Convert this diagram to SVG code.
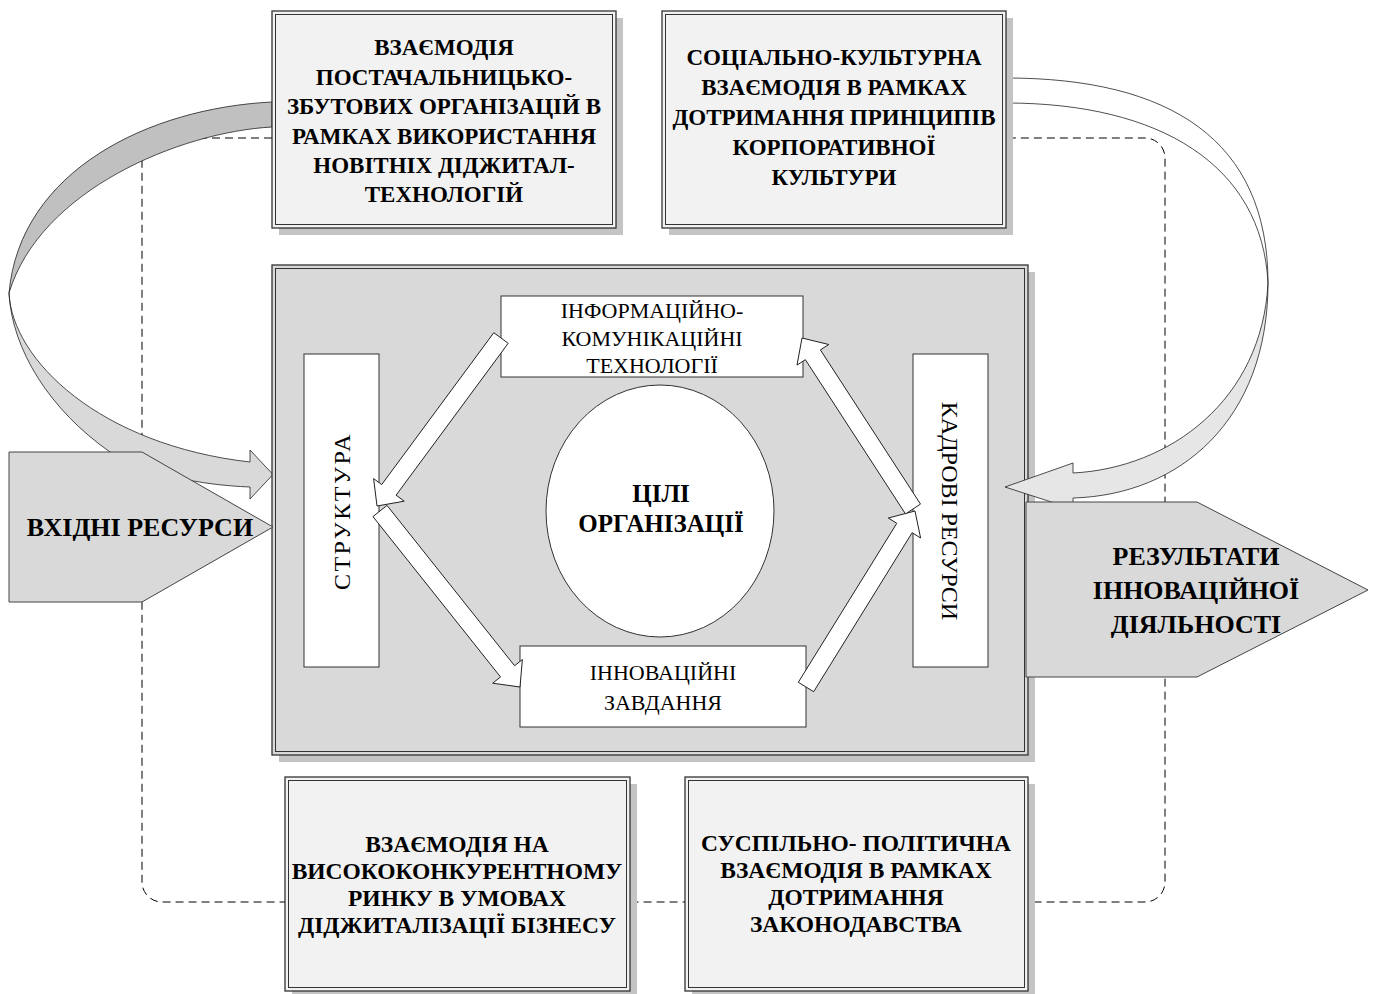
<svg xmlns="http://www.w3.org/2000/svg" width="1376" height="994" viewBox="0 0 1376 994">
<style>
.bt{font-family:"Liberation Serif","Times New Roman",serif;font-weight:bold;font-size:23px;text-anchor:middle;fill:#000}
.rt{font-family:"Liberation Serif","Times New Roman",serif;font-size:22px;text-anchor:middle;fill:#000}
.big{font-family:"Liberation Serif","Times New Roman",serif;font-weight:bold;font-size:26px;text-anchor:middle;fill:#000}
.shadow{fill:#c4c4c4;stroke:none}
.outer{fill:#f2f2f2;stroke:#333;stroke-width:1.3}
.inner{fill:none;stroke:#333;stroke-width:1}
.wbox{fill:#fff;stroke:#333;stroke-width:1}
.barrow{fill:#fff;stroke:#222;stroke-width:1;stroke-linejoin:miter}
.dash{fill:none;stroke:#000;stroke-width:1;stroke-dasharray:8 5}
</style>
<rect width="1376" height="994" fill="#fff"/>

<!-- right ribbon (behind dashed line) -->
<g id="ribbon-right">
<path d="M1006,78 C1170,78 1268,140 1268,283 C1262,165 1160,103 1006,103 Z" fill="#fff" stroke="#222" stroke-width="0.8"/>
</g>

<!-- dashed boundary -->
<g id="boundary">
<path class="dash" d="M272,138 H162 A20,20 0 0 0 142,158 V882 A20,20 0 0 0 162,902 H1145 A20,20 0 0 0 1165,882 V158 A20,20 0 0 0 1145,138 H1006"/>
</g>

<!-- left ribbon -->
<g id="ribbon-left">
<path d="M272,102 C150,108 20,170 9,293 C40,190 180,132 272,127 Z" fill="#c0c0c0" stroke="#222" stroke-width="0.8"/>
<path d="M9,293 C12,360 100,445 250,462 L250,450 L273,474.5 L250,499 L250,487 C200,485 150,475 110,452 C50,410 12,350 9,293 Z" fill="#d9d9d9" stroke="#222" stroke-width="0.8"/>
</g>

<!-- main organisation box -->
<g id="organisation">
<rect class="shadow" x="279" y="272" width="756" height="490"/>
<rect x="272" y="265" width="756" height="490" fill="#d9d9d9" stroke="#333" stroke-width="1.3"/>
<rect class="inner" x="275.5" y="268.5" width="749" height="483"/>
</g>

<g id="structure">
<rect class="wbox" x="304" y="354" width="75" height="313"/>
<text class="rt" style="font-size:24px;letter-spacing:2.5px" transform="translate(350,511) rotate(-90)">СТРУКТУРА</text>
</g>

<g id="personnel">
<rect class="wbox" x="913" y="354" width="75" height="313"/>
<text class="rt" style="font-size:24px" transform="translate(942,511) rotate(90)">КАДРОВІ РЕСУРСИ</text>
</g>

<g id="ict">
<rect class="wbox" x="501" y="296" width="302" height="81"/>
<text class="rt" x="652" y="318">ІНФОРМАЦІЙНО-</text>
<text class="rt" x="652" y="346">КОМУНІКАЦІЙНІ</text>
<text class="rt" x="652" y="373">ТЕХНОЛОГІЇ</text>
</g>

<g id="tasks">
<rect class="wbox" x="520" y="646" width="286" height="81"/>
<text class="rt" x="663" y="680">ІННОВАЦІЙНІ</text>
<text class="rt" x="663" y="710">ЗАВДАННЯ</text>
</g>

<g id="goals">
<ellipse cx="660" cy="511" rx="114" ry="126" fill="#fff" stroke="#333" stroke-width="1"/>
<text class="big" style="font-size:25px" x="661" y="502">ЦІЛІ</text>
<text class="big" style="font-size:25px" x="661" y="532">ОРГАНІЗАЦІЇ</text>
</g>

<!-- inner connectors -->
<g id="connectors">
<polygon class="barrow" points="508.2,343.3 396.1,495.2 404.2,501.2 377,506 373.6,478.6 381.7,484.6 493.8,332.7"/>
<polygon class="barrow" points="372.96,516.6 500.5,676.95 492.7,683.2 520,687 522.4,659.5 514.6,665.75 387,505.4"/>
<polygon class="barrow" points="813.65,691.7 912.15,532.7 920.6,538 915,511 888.3,518 896.8,523.3 798.3,682.3"/>
<polygon class="barrow" points="920.5,504.1 820.4,349.9 828.8,344.5 802,338 797,365.1 805.4,359.7 905.5,513.9"/>
</g>

<!-- right ribbon lower part (over main box) -->
<g id="ribbon-right-head">
<path d="M1268,283 C1268,420 1180,495 1073,498 L1073,509 L1005,487 L1073,463 L1073,473 C1170,468 1262,400 1268,283 Z" fill="#e6e6e6" stroke="#222" stroke-width="0.8"/>
</g>

<!-- outer interaction boxes -->
<g id="supply">
<rect class="shadow" x="279" y="18" width="344" height="217"/>
<rect class="outer" x="272" y="11" width="344" height="217"/>
<rect class="inner" x="275.5" y="14.5" width="337" height="210"/>
<text class="bt" x="444" y="55">ВЗАЄМОДІЯ</text>
<text class="bt" x="444" y="85">ПОСТАЧАЛЬНИЦЬКО-</text>
<text class="bt" x="444" y="114">ЗБУТОВИХ ОРГАНІЗАЦІЙ В</text>
<text class="bt" x="444" y="144">РАМКАХ ВИКОРИСТАННЯ</text>
<text class="bt" x="444" y="173">НОВІТНІХ ДІДЖИТАЛ-</text>
<text class="bt" x="444" y="202">ТЕХНОЛОГІЙ</text>
</g>

<g id="culture">
<rect class="shadow" x="669" y="18" width="344" height="217"/>
<rect class="outer" x="662" y="11" width="344" height="217"/>
<rect class="inner" x="665.5" y="14.5" width="337" height="210"/>
<text class="bt" x="834" y="65">СОЦІАЛЬНО-КУЛЬТУРНА</text>
<text class="bt" x="834" y="95">ВЗАЄМОДІЯ В РАМКАХ</text>
<text class="bt" x="834" y="125">ДОТРИМАННЯ ПРИНЦИПІВ</text>
<text class="bt" x="834" y="155">КОРПОРАТИВНОЇ</text>
<text class="bt" x="834" y="185">КУЛЬТУРИ</text>
</g>

<g id="market">
<rect class="shadow" x="292" y="784" width="345" height="214"/>
<rect class="outer" x="285" y="777" width="345" height="214"/>
<rect class="inner" x="288.5" y="780.5" width="338" height="207"/>
<text class="bt" style="font-size:23.5px" x="457" y="852">ВЗАЄМОДІЯ НА</text>
<text class="bt" style="font-size:23.5px" x="457" y="879">ВИСОКОКОНКУРЕНТНОМУ</text>
<text class="bt" style="font-size:23.5px" x="457" y="906">РИНКУ В УМОВАХ</text>
<text class="bt" style="font-size:23.5px" x="457" y="933">ДІДЖИТАЛІЗАЦІЇ БІЗНЕСУ</text>
</g>

<g id="politics">
<rect class="shadow" x="692" y="784" width="343" height="214"/>
<rect class="outer" x="685" y="777" width="343" height="214"/>
<rect class="inner" x="688.5" y="780.5" width="336" height="207"/>
<text class="bt" style="font-size:23.5px" x="856" y="851">СУСПІЛЬНО- ПОЛІТИЧНА</text>
<text class="bt" style="font-size:23.5px" x="856" y="878">ВЗАЄМОДІЯ В РАМКАХ</text>
<text class="bt" style="font-size:23.5px" x="856" y="905">ДОТРИМАННЯ</text>
<text class="bt" style="font-size:23.5px" x="856" y="932">ЗАКОНОДАВСТВА</text>
</g>

<!-- input / output -->
<g id="input">
<polygon points="9,452 142,452 273,527 142,602 9,602" fill="#d9d9d9" stroke="#444" stroke-width="1"/>
<text class="big" x="140" y="536">ВХІДНІ РЕСУРСИ</text>
</g>

<g id="output">
<polygon points="1026,502 1197,502 1368,590 1197,677 1026,677" fill="#d9d9d9" stroke="#444" stroke-width="1"/>
<text class="big" x="1196" y="565">РЕЗУЛЬТАТИ</text>
<text class="big" x="1196" y="599">ІННОВАЦІЙНОЇ</text>
<text class="big" x="1196" y="633">ДІЯЛЬНОСТІ</text>
</g>
</svg>
